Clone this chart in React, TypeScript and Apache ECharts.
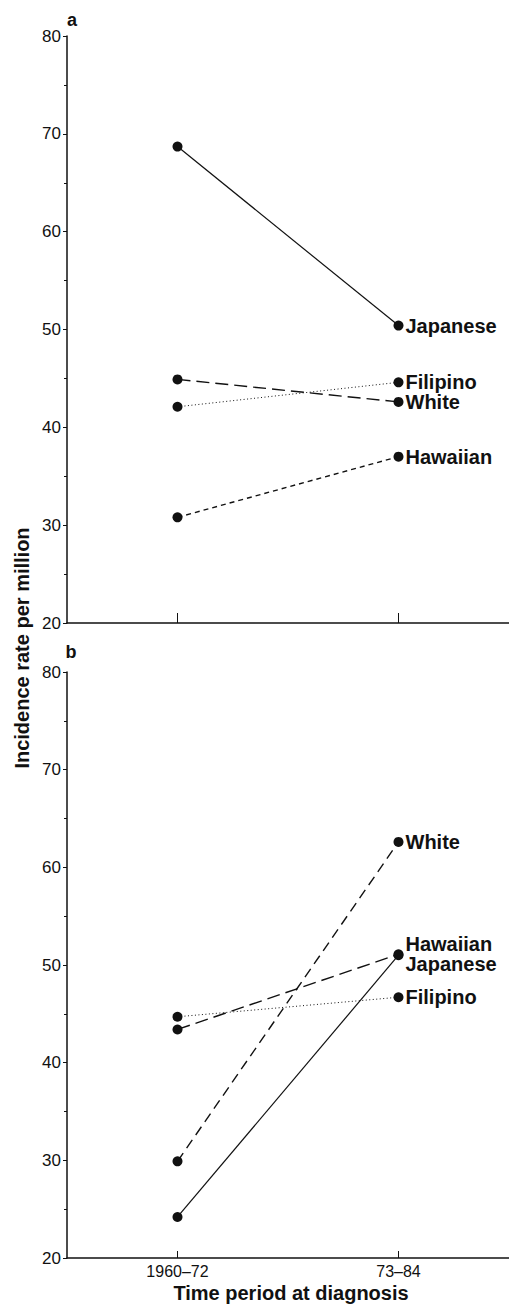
import React, { useEffect, useRef } from "react";
import * as echarts from "echarts";

const categories = ["1960–72", "73–84"];

// Panel a
const aJapanese = [68.7, 50.4];
const aWhite = [44.9, 42.6];
const aFilipino = [42.1, 44.6];
const aHawaiian = [30.8, 37.0];

// Panel b
const bWhite = [29.9, 62.6];
const bHawaiian = [43.4, 51.1];
const bJapanese = [24.2, 51.0];
const bFilipino = [44.7, 46.7];

const yMin = 20;
const yMax = 80;
const yStep = 10;

const INK = "#111";
const FONT = "Liberation Sans, Arial, sans-serif";

function makeSeries(
  name: string,
  data: number[],
  idx: number,
  lineType: any,
  width: number,
  offset: number[] = [0, 0]
) {
  return {
    type: "line",
    name,
    xAxisIndex: idx,
    yAxisIndex: idx,
    symbol: "circle",
    symbolSize: 10,
    itemStyle: { color: INK },
    lineStyle: { color: INK, width, type: lineType },
    label: { show: false },
    emphasis: { disabled: true },
    z: 3,
    data: data.map((v, i) =>
      i === data.length - 1
        ? {
            value: v,
            label: {
              show: true,
              position: "right",
              distance: 2,
              offset,
              formatter: name,
              color: INK,
              fontFamily: FONT,
              fontSize: 20,
              fontWeight: "bold",
            },
          }
        : v
    ),
  };
}

export default function App() {
  const ref = useRef<HTMLDivElement>(null);
  useEffect(() => {
    if (!ref.current) return;
    const chart = echarts.init(ref.current, undefined, { renderer: "svg" });
    const grids = [
      { left: 67, top: 36, width: 448, height: 587 },
      { left: 67, top: 672, width: 448, height: 586 },
    ];
    const xAxis = grids.map((_, i) => ({
      type: "category",
      gridIndex: i,
      data: categories,
      boundaryGap: true,
      axisLine: { lineStyle: { color: INK, width: 1.5 } },
      axisTick: {
        show: true,
        inside: true,
        length: i === 0 ? 10 : 7,
        alignWithLabel: true,
        lineStyle: { color: INK, width: 1 },
      },
      axisLabel: {
        show: i === 1,
        color: INK,
        fontFamily: FONT,
        fontSize: 16,
        margin: 5,
      },
      splitLine: { show: false },
    }));
    const yAxis = grids.map((_, i) => ({
      type: "value",
      gridIndex: i,
      min: yMin,
      max: yMax,
      interval: yStep,
      axisLine: { show: true, lineStyle: { color: INK, width: 1.5 } },
      axisTick: { show: true, length: 4, lineStyle: { color: INK, width: 1 } },
      minorTick: { show: true, splitNumber: 2, length: 3, lineStyle: { color: INK, width: 1 } },
      axisLabel: { color: INK, fontFamily: FONT, fontSize: 17, margin: 6 },
      splitLine: { show: false },
    }));
    const option = {
      animation: false,
      backgroundColor: "#fff",
      grid: grids,
      xAxis,
      yAxis,
      series: [
        makeSeries("Japanese", aJapanese, 0, "solid", 1.2),
        makeSeries("White", aWhite, 0, [13, 6], 1.4),
        makeSeries("Filipino", aFilipino, 0, [1, 2.5], 1),
        makeSeries("Hawaiian", aHawaiian, 0, [5, 4], 1.4),
        makeSeries("White", bWhite, 1, [10, 6], 1.4),
        makeSeries("Hawaiian", bHawaiian, 1, [13, 6], 1.4, [0, -10]),
        makeSeries("Japanese", bJapanese, 1, "solid", 1.2, [0, 9]),
        makeSeries("Filipino", bFilipino, 1, [1, 2.5], 1),
      ],
      graphic: [
        {
          type: "text",
          x: 72,
          y: 20,
          style: {
            text: "a",
            fill: INK,
            font: `bold 18px ${FONT}`,
            textAlign: "center",
            textVerticalAlign: "middle",
          },
        },
        {
          type: "text",
          x: 71,
          y: 652,
          style: {
            text: "b",
            fill: INK,
            font: `bold 18px ${FONT}`,
            textAlign: "center",
            textVerticalAlign: "middle",
          },
        },
        {
          type: "text",
          x: 22,
          y: 648,
          rotation: Math.PI / 2,
          style: {
            text: "Incidence rate per million",
            fill: INK,
            font: `bold 20px ${FONT}`,
            textAlign: "center",
            textVerticalAlign: "middle",
          },
        },
        {
          type: "text",
          x: 291,
          y: 1293,
          style: {
            text: "Time period at diagnosis",
            fill: INK,
            font: `bold 20px ${FONT}`,
            textAlign: "center",
            textVerticalAlign: "middle",
          },
        },
      ],
    };
    chart.setOption(option as any);
    return () => chart.dispose();
  }, []);
  return (
    <div
      ref={ref}
      style={{ position: "absolute", left: 0, top: 0, width: 509, height: 1305, background: "#fff" }}
    />
  );
}
